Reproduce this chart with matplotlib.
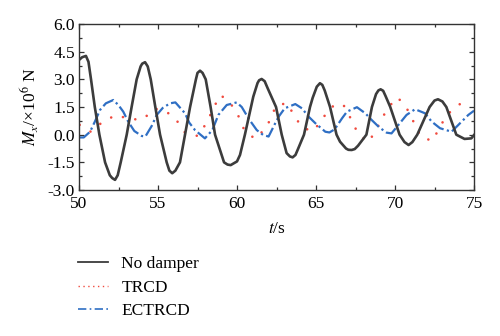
import matplotlib
matplotlib.use("Agg")
import matplotlib.pyplot as plt
from matplotlib.lines import Line2D
from matplotlib.ticker import MultipleLocator, FormatStrFormatter

plt.rcParams['font.family'] = ['Liberation Serif', 'DejaVu Serif']
plt.rcParams['mathtext.fontset'] = 'stix'

# No damper (black)
t_nd = [50.0, 50.2, 50.44, 50.6, 50.76, 51.0, 51.29, 51.65, 51.95, 52.1, 52.28, 52.45, 52.64, 53.02,
        53.33, 53.65, 53.9, 54.0, 54.18, 54.35, 54.54, 54.83, 55.13, 55.55, 55.72, 55.9, 56.1, 56.39,
        56.71, 57.03, 57.4, 57.5, 57.66, 57.82, 58.02, 58.33, 58.61, 59.18, 59.4, 59.6, 60.0, 60.19,
        60.5, 60.61, 61.03, 61.3, 61.4, 61.56, 61.75, 61.95, 62.47, 62.83, 63.14, 63.35, 63.52, 63.7,
        63.85, 64.24, 64.62, 64.79, 65.05, 65.25, 65.4, 65.55, 65.89, 66.3, 66.52, 66.9, 67.05, 67.26,
        67.45, 67.66, 68.19, 68.54, 68.8, 68.95, 69.09, 69.25, 69.4, 69.7, 70.29, 70.6, 70.86, 71.1,
        71.41, 72.19, 72.5, 72.72, 73.0, 73.25, 73.88, 74.4, 74.83, 75.0]
m_nd = [4.05, 4.2, 4.27, 3.95, 3.0, 1.5, 0.0, -1.5, -2.2, -2.35, -2.45, -2.2, -1.5, 0.0,
        1.5, 3.0, 3.7, 3.85, 3.93, 3.7, 3.0, 1.5, 0.0, -1.5, -1.95, -2.09, -1.95, -1.5,
        0.0, 1.5, 3.0, 3.35, 3.47, 3.35, 3.0, 1.5, 0.0, -1.5, -1.62, -1.65, -1.45, -1.1,
        0.0, 0.43, 2.06, 2.8, 2.95, 3.02, 2.9, 2.5, 1.5, 0.0, -1.0, -1.18, -1.23, -1.1,
        -0.8, 0.0, 1.5, 2.0, 2.6, 2.79, 2.7, 2.4, 1.5, 0.0, -0.38, -0.75, -0.82, -0.83,
        -0.78, -0.6, 0.0, 1.5, 2.2, 2.4, 2.46, 2.38, 2.1, 1.5, 0.0, -0.4, -0.56, -0.4,
        0.0, 1.5, 1.85, 1.92, 1.8, 1.5, 0.0, -0.23, -0.2, -0.02]

# TRCD (red dotted)
t_tr = [50.04, 50.74, 51.52, 52.36, 53.23, 54.05, 54.79, 55.46, 56.16, 56.71, 57.51, 58.12, 58.5, 58.97,
        59.62, 60.08, 60.46, 61.14, 61.88, 62.25, 62.53, 63.2, 63.64, 64.18, 64.85, 65.42, 66.01, 66.71,
        67.19, 67.63, 68.27, 68.73, 69.15, 69.58, 70.17, 70.8, 71.22, 71.63, 72.36, 73.27, 74.11, 74.6]
m_tr = [0.53, 0.16, 0.71, 1.07, 0.83, 0.84, 1.41, 1.3, 0.8, 0.11, -0.07, 0.69, 1.45, 2.15,
        1.66, 1.03, 0.25, -0.23, 0.4, 1.16, 1.61, 1.7, 0.98, 0.35, 0.2, 0.89, 1.52, 1.66,
        0.89, 0.11, -0.41, 0.11, 0.84, 1.49, 2.03, 1.34, 0.62, -0.11, -0.34, 1.07, 1.66, 1.3]

# ECTRCD (blue dash-dot)
t_ec = [50.0, 50.3, 50.7, 51.0, 51.33, 51.7, 52.17, 52.5, 52.8, 53.12, 53.5, 53.97, 54.2, 54.6, 54.92,
        55.3, 55.76, 56.1, 56.71, 56.98, 57.34, 57.97, 58.44, 58.82, 59.35, 59.98, 60.3, 60.76, 61.25,
        61.66, 62.0, 62.42, 62.64, 63.02, 63.69, 64.11, 64.53, 64.96, 65.59, 65.85, 66.18, 66.65, 66.96,
        67.59, 68.12, 68.52, 69.0, 69.47, 69.78, 70.35, 70.73, 71.27, 71.9, 72.32, 72.85, 73.58, 74.22,
        74.64, 75.0]
m_ec = [-0.15, -0.15, 0.16, 0.7, 1.34, 1.7, 1.88, 1.6, 1.25, 0.7, 0.2, -0.07, -0.1, 0.47, 1.07,
        1.45, 1.7, 1.75, 1.16, 0.65, 0.25, -0.2, 0.25, 1.07, 1.61, 1.75, 1.5, 0.84, 0.25,
        -0.02, -0.1, 0.62, 0.98, 1.43, 1.66, 1.43, 0.98, 0.62, 0.16, 0.12, 0.29, 0.89, 1.25,
        1.49, 1.16, 0.8, 0.4, 0.11, 0.07, 0.67, 1.07, 1.38, 1.16, 0.71, 0.35, 0.16, 0.71,
        1.07, 1.3]

labels = ["No damper", "TRCD", "ECTRCD"]
x_ticks = [50, 55, 60, 65, 70, 75]
y_ticks = [-3.0, -1.5, 0.0, 1.5, 3.0, 4.5, 6.0]

c_nd, c_tr, c_ec = '#3c3c3c', '#f04a3e', '#2f6fc4'

fig = plt.figure(figsize=(5.0, 3.36), dpi=100)
ax = fig.add_axes([0.158, 0.4345, 0.79, 0.494])

ax.plot(t_nd, m_nd, color=c_nd, lw=1.9, zorder=3)
ax.plot(t_tr, m_tr, color=c_tr, lw=1.9, linestyle=(0, (0.01, 4.8)),
        dash_capstyle='round', zorder=2)
ax.plot(t_ec, m_ec, color=c_ec, lw=1.6, linestyle=(0, (5.5, 1.5, 1, 1.5)), zorder=2)

ax.set_xlim(50, 75)
ax.set_ylim(-3.0, 6.0)
ax.set_xticks(x_ticks)
ax.set_yticks(y_ticks)
ax.yaxis.set_major_formatter(FormatStrFormatter('%.1f'))
ax.xaxis.set_minor_locator(MultipleLocator(2.5))
ax.yaxis.set_minor_locator(MultipleLocator(0.75))
ax.tick_params(which='both', direction='in', top=True, right=True, labelsize=12.5,
               color='#333333', width=0.9)
ax.tick_params(which='major', length=3.5, pad=4.5)
ax.tick_params(which='minor', length=2.5)
ax.tick_params(axis='y', which='major', pad=3)
for sp in ax.spines.values():
    sp.set_linewidth(1.0)
    sp.set_color('#333333')

ax.set_xlabel(r'$t$/s', fontsize=12.5, labelpad=6)
ax.set_ylabel(r'$M_x$/×10$^6$ N', fontsize=12.5, labelpad=5)

handles = [Line2D([], [], color=c_nd, lw=1.3),
           Line2D([], [], color=c_tr, lw=1.0, linestyle=(0, (1, 2.5))),
           Line2D([], [], color=c_ec, lw=1.2, linestyle=(0, (5, 2, 1, 2)))]
fig.legend(handles, labels, loc='upper left', bbox_to_anchor=(0.156, 0.238), frameon=False,
           fontsize=12.5, handlelength=1.75, handletextpad=0.75, labelspacing=0.42,
           borderaxespad=0, borderpad=0)

fig.savefig('out.png', dpi=100)
